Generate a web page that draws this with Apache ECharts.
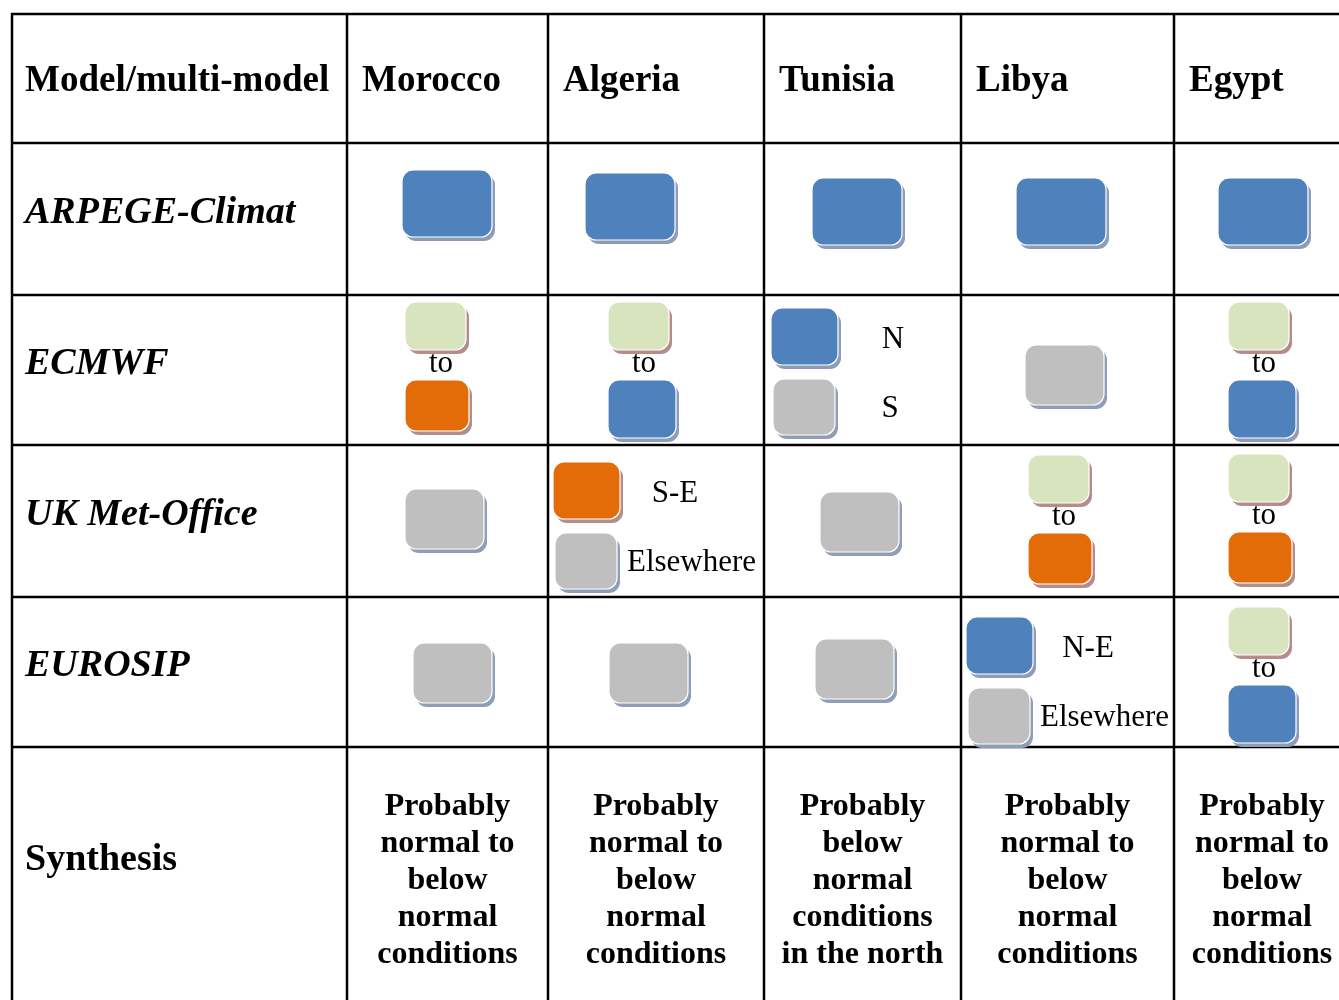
<!DOCTYPE html>
<html><head><meta charset="utf-8">
<script src="https://cdn.jsdelivr.net/npm/echarts@6/dist/echarts.min.js"></script>
<style>html,body{margin:0;padding:0;background:#fff}#c{width:1339px;height:1000px}</style>
</head><body><div id="c"></div>
<script>
// ---------- DATA ----------
const headerLabel = 'Model/multi-model';
const countries = ['Morocco', 'Algeria', 'Tunisia', 'Libya', 'Egypt'];
const models = ['ARPEGE-Climat', 'ECMWF', 'UK Met-Office', 'EUROSIP'];
const synthesisLabel = 'Synthesis';
// cell codes: "color" = single box, "a>b" = a to b, "a:L1|b:L2" = regional split
const arpegeCells  = ['blue', 'blue', 'blue', 'blue', 'blue'];
const ecmwfCells   = ['green>orange', 'green>blue', 'blue:N|gray:S', 'gray', 'green>blue'];
const ukCells      = ['gray', 'orange:S-E|gray:Elsewhere', 'gray', 'green>orange', 'green>orange'];
const eurosipCells = ['gray', 'gray', 'gray', 'blue:N-E|gray:Elsewhere', 'green>blue'];
const synthesisTexts = [
  'Probably\nnormal to\nbelow\nnormal\nconditions',
  'Probably\nnormal to\nbelow\nnormal\nconditions',
  'Probably\nbelow\nnormal\nconditions\nin the north',
  'Probably\nnormal to\nbelow\nnormal\nconditions',
  'Probably\nnormal to\nbelow\nnormal\nconditions'
];
const modelCells = [arpegeCells, ecmwfCells, ukCells, eurosipCells];

// ---------- LAYOUT / STYLE ----------
const colEdges = [12, 347, 548, 764, 961, 1174, 1350];
const rowEdges = [14, 143, 295, 445, 597, 747, 1013];
// anchor (top-left of the first box) per model row / country column
const anchors = [
  [[402,170],[585,173],[812,178],[1016,178],[1218,178]],
  [[405,302],[608,302],[771,308],[1025,345],[1228,302]],
  [[405,489],[553,462],[820,492],[1028,455],[1228,454]],
  [[413,643],[609,643],[815,639],[966,617],[1228,607]]
];
const fills   = {blue:'#4F81BD', orange:'#E36C09', green:'#D7E4BD', gray:'#BFBFBF'};
const shadows = {blue:'#8E9CB6', orange:'#B58C8C', green:'#B58C8C', gray:'#8F9DB7'};
const FONT = '"Liberation Serif","Times New Roman",serif';

// build items
const cellItems = [];
modelCells.forEach((row, r) => row.forEach((code, c) => cellItems.push([r, c, code])));

function renderGrid(params, api) {
  const ch = [];
  const xR = 1345;
  for (let i = 0; i < rowEdges.length - 1; i++) {
    const a = api.coord([colEdges[0], rowEdges[i]]), b = api.coord([xR, rowEdges[i]]);
    ch.push({type:'line', shape:{x1:a[0]-1, y1:a[1], x2:b[0], y2:b[1]}, style:{stroke:'#000', lineWidth:2.5}});
  }
  for (let j = 0; j < colEdges.length - 1; j++) {
    const a = api.coord([colEdges[j], rowEdges[0]]), b = api.coord([colEdges[j], 1000]);
    ch.push({type:'line', shape:{x1:a[0], y1:a[1]-1, x2:b[0], y2:b[1]}, style:{stroke:'#000', lineWidth:2.5}});
  }
  // header texts
  const hy = (rowEdges[0] + rowEdges[1]) / 2 + 3;
  const p0 = api.coord([colEdges[0] + 13, hy]);
  ch.push({type:'text', style:{text:headerLabel, x:p0[0], y:p0[1], font:'bold 37px ' + FONT, fill:'#000', textAlign:'left', textVerticalAlign:'middle'}});
  countries.forEach((name, i) => {
    const p = api.coord([colEdges[i+1] + 15, hy]);
    ch.push({type:'text', style:{text:name, x:p[0], y:p[1], font:'bold 37px ' + FONT, fill:'#000', textAlign:'left', textVerticalAlign:'middle'}});
  });
  models.forEach((name, i) => {
    const cy = (rowEdges[i+1] + rowEdges[i+2]) / 2 - 6;
    const p = api.coord([colEdges[0] + 13, cy]);
    ch.push({type:'text', style:{text:name, x:p[0], y:p[1], font:'italic bold 38px ' + FONT, fill:'#000', textAlign:'left', textVerticalAlign:'middle'}});
  });
  const sp = api.coord([colEdges[0] + 13, 860]);
  ch.push({type:'text', style:{text:synthesisLabel, x:sp[0], y:sp[1], font:'bold 38px ' + FONT, fill:'#000', textAlign:'left', textVerticalAlign:'middle'}});
  synthesisTexts.forEach((t, i) => {
    const p = api.coord([(colEdges[i+1] + colEdges[i+2]) / 2, 881]);
    ch.push({type:'text', style:{text:t, x:p[0], y:p[1], font:'bold 32px ' + FONT, lineHeight:37, fill:'#000', textAlign:'center', textVerticalAlign:'middle'}});
  });
  return {type:'group', children:ch};
}

function boxEls(api, x, y, w, h, color) {
  const p = api.coord([x, y]), q = api.coord([x + w, y + h]);
  const W = q[0] - p[0], H = q[1] - p[1];
  return [
    {type:'rect', shape:{x:p[0]+3, y:p[1]+4, width:W, height:H, r:11}, style:{fill:shadows[color]}},
    {type:'rect', shape:{x:p[0], y:p[1], width:W, height:H, r:11}, style:{fill:fills[color], stroke:'#fff', lineWidth:1.2}}
  ];
}
function textEl(api, x, y, text, align) {
  const p = api.coord([x, y]);
  return {type:'text', style:{text:text, x:p[0], y:p[1], font:'31px ' + FONT, fill:'#000', textAlign:align, textVerticalAlign:'middle'}};
}

function renderCell(params, api) {
  const item = cellItems[params.dataIndex];
  const r = item[0], c = item[1], code = item[2];
  const [ax, ay] = anchors[r][c];
  let ch = [];
  if (code.indexOf('>') >= 0) {
    const [a, b] = code.split('>');
    ch = ch.concat(boxEls(api, ax, ay, 61, 48, a));
    ch.push(textEl(api, ax + 36, ay + 62, 'to', 'center'));
    ch = ch.concat(boxEls(api, ax, ay + 78, b === 'blue' ? 68 : 64, b === 'blue' ? 58 : 51, b));
  } else if (code.indexOf('|') >= 0) {
    const parts = code.split('|').map(s => s.split(':'));
    const h1 = 57, h2 = 56;
    ch = ch.concat(boxEls(api, ax, ay, 67, h1, parts[0][0]));
    ch.push(parts[0][1].length > 4 ? textEl(api, ax + 76, ay + h1/2 + 3, parts[0][1], 'left') : textEl(api, ax + 122, ay + h1/2 + 3, parts[0][1], 'center'));
    ch = ch.concat(boxEls(api, ax + 2, ay + 71, 62, h2, parts[1][0]));
    ch.push(parts[1][1].length > 4 ? textEl(api, ax + 74, ay + 73 + h2/2, parts[1][1], 'left') : textEl(api, ax + 119, ay + 73 + h2/2, parts[1][1], 'center'));
  } else if (code === 'blue') {
    ch = ch.concat(boxEls(api, ax, ay, 90, 67, code));
  } else {
    ch = ch.concat(boxEls(api, ax, ay, 79, 60, code));
  }
  return {type:'group', children:ch};
}

const chart = echarts.init(document.getElementById('c'));
chart.setOption({
  animation:false,
  backgroundColor:'#fff',
  grid:{left:0, right:0, top:0, bottom:0},
  xAxis:{type:'value', min:0, max:1339, show:false},
  yAxis:{type:'value', min:0, max:1000, inverse:true, show:false},
  series:[
    {type:'custom', name:'table', renderItem:renderGrid, data:[[0,0]], silent:true, clip:false},
    {type:'custom', name:'forecasts', renderItem:renderCell, data:cellItems.map(d => [d[0], d[1]]), silent:true, clip:false}
  ]
});
</script></body></html>
